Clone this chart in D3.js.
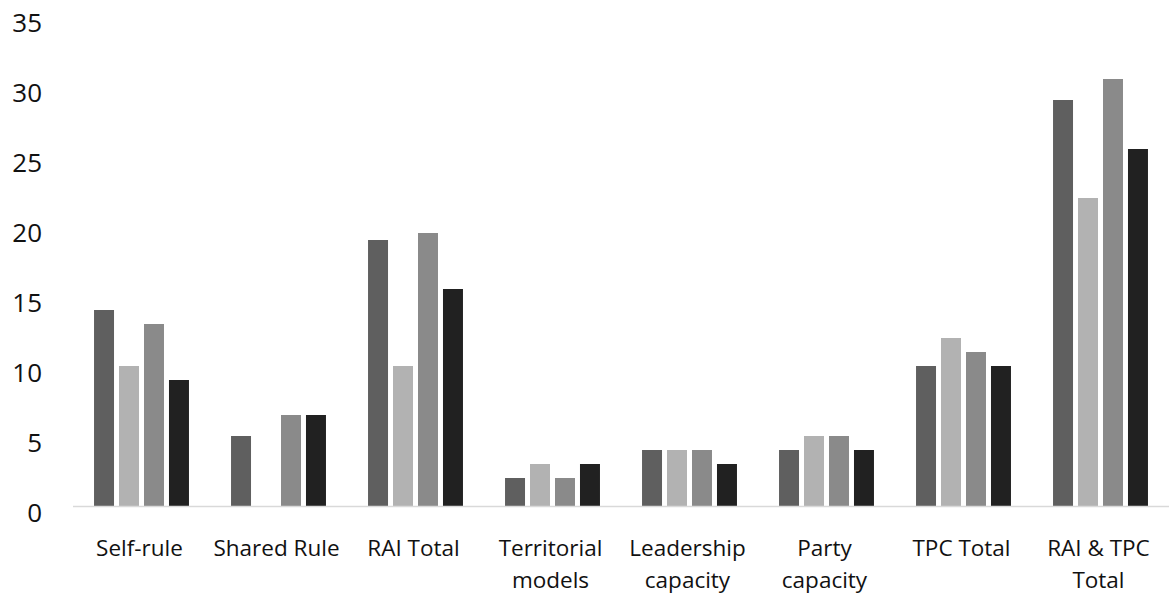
<!DOCTYPE html>
<html>
<head>
<meta charset="utf-8">
<script src="https://cdn.jsdelivr.net/npm/d3@7"></script>
<style>
  html, body { margin: 0; padding: 0; background: #fff; }
  text { font-family: "Open Sans", sans-serif; fill: #111; }
</style>
</head>
<body>
<div id="chart"></div>
<script>
// categories (label lines) and the four series
const categories = ["Self-rule", "Shared Rule", "RAI Total", "Territorial models",
                    "Leadership capacity", "Party capacity", "TPC Total", "RAI & TPC Total"];
const labelLines = [["Self-rule"], ["Shared Rule"], ["RAI Total"], ["Territorial", "models"],
                    ["Leadership", "capacity"], ["Party", "capacity"], ["TPC Total"], ["RAI & TPC", "Total"]];
const seriesNames = ["Series 1", "Series 2", "Series 3", "Series 4"];
const series1 = [14, 5, 19, 2, 4, 4, 10, 29];
const series2 = [10, 0, 10, 3, 4, 5, 12, 22];
const series3 = [13, 6.5, 19.5, 2, 4, 5, 11, 30.5];
const series4 = [9, 6.5, 15.5, 3, 3, 4, 10, 25.5];
const yTicks = [0, 5, 10, 15, 20, 25, 30, 35];
const colors = ["#5f5f5f", "#b2b2b2", "#8a8a8a", "#212121"];

const W = 1169, H = 593;
const plot = {left: 73, right: 1169, top: 16, bottom: 506};

const data = categories.map((c, i) => ({
  cat: c,
  vals: [series1[i], series2[i], series3[i], series4[i]]
}));

const svg = d3.select("#chart").append("svg")
  .attr("width", W)
  .attr("height", H);

// scales
const x0 = d3.scaleBand()
  .domain(categories)
  .range([plot.left, plot.right])
  .paddingInner(0.307)
  .paddingOuter(0.1535);

const x1 = d3.scaleBand()
  .domain(d3.range(seriesNames.length))
  .range([0, x0.bandwidth()])
  .paddingInner(0.2);

const y = d3.scaleLinear()
  .domain([0, 35])
  .range([plot.bottom, plot.top]);

// y labels (no axis line, no gridlines)
svg.append("g")
  .selectAll("text")
  .data(yTicks)
  .join("text")
    .attr("x", 42)
    .attr("y", d => y(d) + 15.5)
    .attr("text-anchor", "end")
    .style("font-size", "26px")
    .text(d => d);

// bars
const groups = svg.append("g")
  .selectAll("g")
  .data(data)
  .join("g")
    .attr("transform", d => `translate(${x0(d.cat)},0)`);

groups.selectAll("rect")
  .data(d => d.vals.map((v, k) => ({k, v})))
  .join("rect")
    .attr("x", d => x1(d.k))
    .attr("width", x1.bandwidth())
    .attr("y", d => y(d.v))
    .attr("height", d => y(0) - y(d.v))
    .style("fill", d => colors[d.k]);

// baseline
svg.append("line")
  .attr("x1", plot.left)
  .attr("x2", plot.right)
  .attr("y1", y(0) + 0.5)
  .attr("y2", y(0) + 0.5)
  .style("stroke", "#d9d9d9")
  .style("stroke-width", 1.6);

// x labels
const xl = svg.append("g")
  .selectAll("text")
  .data(categories)
  .join("text")
    .attr("x", d => x0(d) + x0.bandwidth() / 2 - 2)
    .attr("y", 555.5)
    .attr("text-anchor", "middle")
    .style("font-size", "22.5px");

xl.selectAll("tspan")
  .data((d, i) => labelLines[i])
  .join("tspan")
    .attr("x", function() { return this.parentNode.getAttribute("x"); })
    .attr("dy", (d, i) => i === 0 ? 0 : 32)
    .text(d => d);
</script>
</body>
</html>
